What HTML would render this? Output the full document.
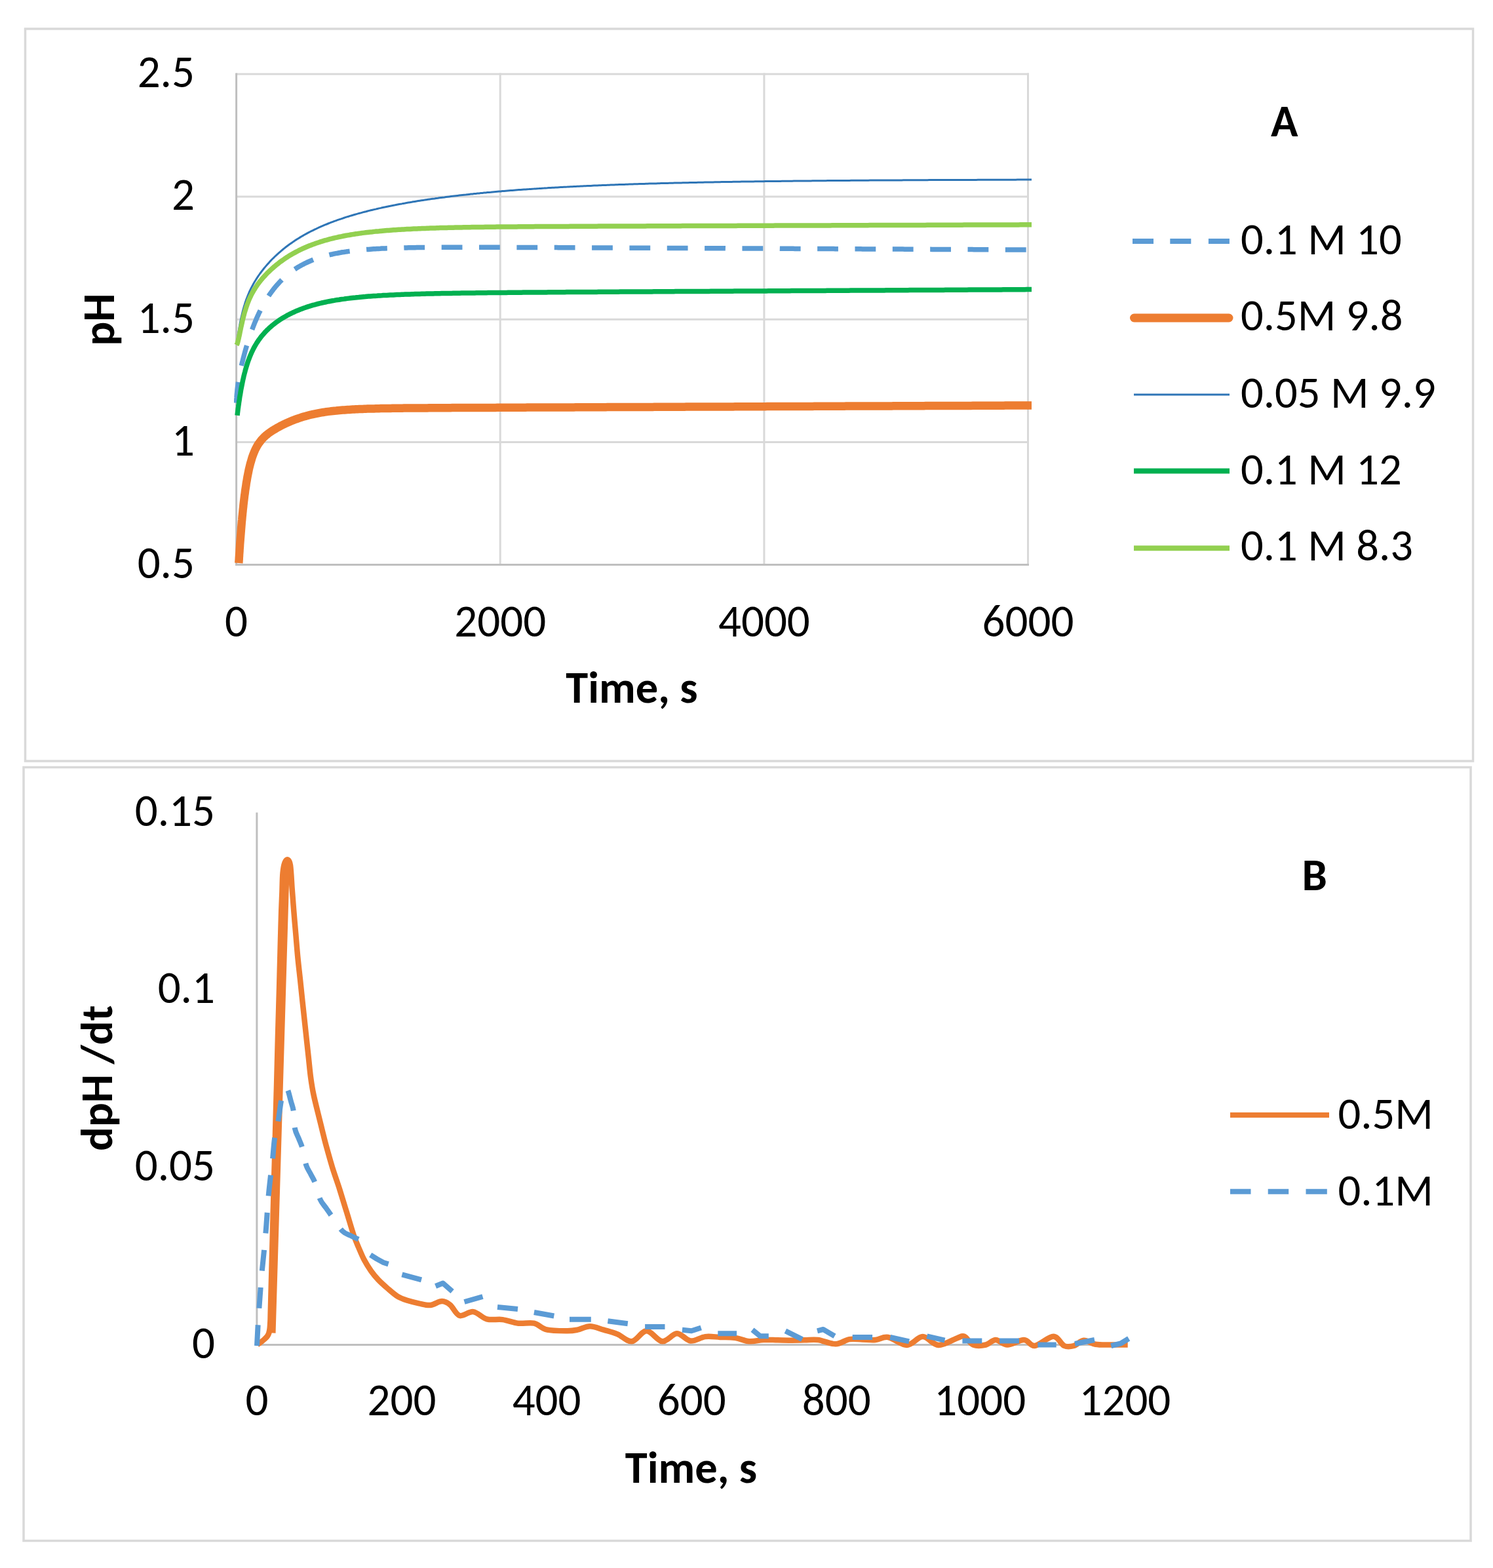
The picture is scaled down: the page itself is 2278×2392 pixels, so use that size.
<!DOCTYPE html>
<html><head><meta charset="utf-8"><title>pH vs time charts</title>
<style>html,body{margin:0;padding:0;background:#fff;}svg{display:block;}text{font-family:Carlito, 'Liberation Sans', sans-serif;fill:#000;}</style></head><body>
<svg width="2278" height="2392" viewBox="0 0 2278 2392">
<rect x="0" y="0" width="2278" height="2392" fill="#fff"/>
<rect x="38.5" y="44" width="2209" height="1117" fill="none" stroke="#D9D9D9" stroke-width="3.5"/>
<rect x="36" y="1170.5" width="2208" height="1180" fill="none" stroke="#D9D9D9" stroke-width="3.5"/>
<g id="chartA">
<line x1="360.6" y1="113.0" x2="1570.0" y2="113.0" stroke="#D9D9D9" stroke-width="3"/>
<line x1="360.6" y1="300.1" x2="1570.0" y2="300.1" stroke="#D9D9D9" stroke-width="3"/>
<line x1="360.6" y1="487.2" x2="1570.0" y2="487.2" stroke="#D9D9D9" stroke-width="3"/>
<line x1="360.6" y1="674.4" x2="1570.0" y2="674.4" stroke="#D9D9D9" stroke-width="3"/>
<line x1="763.2" y1="111.5" x2="763.2" y2="861.5" stroke="#D9D9D9" stroke-width="3"/>
<line x1="1165.9" y1="111.5" x2="1165.9" y2="861.5" stroke="#D9D9D9" stroke-width="3"/>
<line x1="1568.5" y1="111.5" x2="1568.5" y2="861.5" stroke="#D9D9D9" stroke-width="3"/>
<line x1="360.6" y1="111.5" x2="360.6" y2="863.0" stroke="#BFBFBF" stroke-width="3"/>
<line x1="359.1" y1="861.5" x2="1570.0" y2="861.5" stroke="#BFBFBF" stroke-width="3"/>
<path d="M360.7 614.5 L360.8 609.5 L361.0 607.0 L361.1 604.5 L361.3 602.0 L361.6 599.5 L361.8 597.0 L362.0 594.5 L362.3 592.0 L362.6 589.5 L362.9 587.0 L363.2 584.5 L363.6 582.0 L364.0 579.5 L364.4 577.1 L364.9 574.6 L365.3 572.1 L365.8 569.7 L366.3 567.2 L366.9 564.8 L367.4 562.3 L367.9 559.8 L368.5 557.4 L369.1 554.9 L369.7 552.5 L370.3 550.1 L370.9 547.6 L371.5 545.2 L372.2 542.8 L372.8 540.3 L373.5 537.9 L374.1 535.5 L374.8 533.0 L375.5 530.6 L376.2 528.2 L377.0 525.8 L377.7 523.4 L378.4 520.9 L379.2 518.6 L380.0 516.2 L380.8 513.8 L381.6 511.4 L382.4 509.0 L383.2 506.6 L384.1 504.3 L385.0 501.9 L385.9 499.5 L386.8 497.2 L387.7 494.9 L388.6 492.5 L389.6 490.2 L390.6 487.9 L391.6 485.5 L392.6 483.2 L393.7 481.0 L394.7 478.7 L395.8 476.4 L396.9 474.2 L398.0 471.9 L399.2 469.7 L400.4 467.5 L401.6 465.3 L402.8 463.1 L404.1 460.9 L405.4 458.7 L406.7 456.6 L408.0 454.4 L409.4 452.3 L410.8 450.2 L412.2 448.2 L413.7 446.1 L415.1 444.1 L416.7 442.1 L418.2 440.1 L419.8 438.1 L421.4 436.2 L423.1 434.3 L424.8 432.4 L426.5 430.5 L428.2 428.7 L430.0 427.0 L431.7 425.2 L433.6 423.5 L435.4 421.8 L437.3 420.2 L439.2 418.6 L441.2 417.0 L443.2 415.5 L445.2 414.0 L447.2 412.5 L449.3 411.1 L451.4 409.7 L453.5 408.3 L455.7 407.0 L457.9 405.8 L460.1 404.5 L462.3 403.4 L464.5 402.2 L466.8 401.1 L469.1 400.0 L471.4 399.0 L473.7 398.0 L476.0 397.1 L478.4 396.1 L480.7 395.3 L483.1 394.4 L485.5 393.6 L487.9 392.8 L490.3 392.1 L492.8 391.3 L495.2 390.7 L497.6 390.0 L500.1 389.4 L502.5 388.8 L505.0 388.2 L507.5 387.7 L509.9 387.1 L512.4 386.6 L514.9 386.2 L517.4 385.7 L519.8 385.3 L522.3 384.8 L524.8 384.5 L527.3 384.1 L529.8 383.7 L532.3 383.4 L534.8 383.1 L537.3 382.7 L539.8 382.4 L542.3 382.2 L544.9 381.9 L547.4 381.6 L549.9 381.4 L552.4 381.2 L554.9 380.9 L557.5 380.7 L560.0 380.5 L562.5 380.4 L565.0 380.2 L567.5 380.0 L570.1 379.8 L572.6 379.7 L575.1 379.5 L577.6 379.4 L580.2 379.3 L582.7 379.1 L585.2 379.0 L587.8 378.9 L590.3 378.8 L592.8 378.7 L595.4 378.6 L597.9 378.5 L600.4 378.4 L602.9 378.3 L605.5 378.3 L608.0 378.2 L610.5 378.1 L613.1 378.1 L615.6 378.0 L618.1 377.9 L620.6 377.9 L623.2 377.8 L625.7 377.8 L628.3 377.7 L630.8 377.7 L633.3 377.7 L635.9 377.6 L638.4 377.6 L640.9 377.6 L643.5 377.5 L646.0 377.5 L648.5 377.5 L651.1 377.4 L653.6 377.4 L656.1 377.4 L658.7 377.4 L661.2 377.4 L663.7 377.3 L666.3 377.3 L668.8 377.3 L671.4 377.3 L673.9 377.3 L676.4 377.3 L678.9 377.3 L681.4 377.2 L684.0 377.2 L686.6 377.2 L689.1 377.2 L691.6 377.2 L694.1 377.2 L696.7 377.2 L699.2 377.2 L701.8 377.2 L704.3 377.2 L706.8 377.2 L709.4 377.2 L711.9 377.2 L714.4 377.2 L717.0 377.2 L719.6 377.2 L722.1 377.2 L724.6 377.2 L727.2 377.2 L729.7 377.2 L732.3 377.2 L734.8 377.2 L737.4 377.2 L739.9 377.2 L742.4 377.2 L745.0 377.3 L747.5 377.3 L750.1 377.3 L752.6 377.3 L755.2 377.3 L757.7 377.3 L760.2 377.3 L762.7 377.3 L765.3 377.3 L767.8 377.3 L770.4 377.3 L772.9 377.3 L775.5 377.3 L778.1 377.4 L780.6 377.4 L783.1 377.4 L785.6 377.4 L788.2 377.4 L790.7 377.4 L793.3 377.4 L795.8 377.4 L798.4 377.4 L801.0 377.4 L803.5 377.4 L806.0 377.5 L808.5 377.5 L811.1 377.5 L813.6 377.5 L816.2 377.5 L818.7 377.5 L821.3 377.5 L823.9 377.5 L826.5 377.5 L829.0 377.6 L831.5 377.6 L834.0 377.6 L836.5 377.6 L839.1 377.6 L841.6 377.6 L844.2 377.6 L846.8 377.6 L849.3 377.6 L851.9 377.7 L854.5 377.7 L857.0 377.7 L859.5 377.7 L862.0 377.7 L864.6 377.7 L867.1 377.7 L869.7 377.7 L872.2 377.7 L874.8 377.8 L877.3 377.8 L879.9 377.8 L882.5 377.8 L885.1 377.8 L887.6 377.8 L890.1 377.8 L892.6 377.8 L895.2 377.9 L897.7 377.9 L900.2 377.9 L902.8 377.9 L905.3 377.9 L907.9 377.9 L910.5 377.9 L913.0 377.9 L915.6 377.9 L918.2 378.0 L920.8 378.0 L923.3 378.0 L925.9 378.0 L928.4 378.0 L930.9 378.0 L933.4 378.0 L936.0 378.0 L938.5 378.1 L941.1 378.1 L943.6 378.1 L946.2 378.1 L948.8 378.1 L951.4 378.1 L954.0 378.1 L956.6 378.1 L959.2 378.2 L961.7 378.2 L964.2 378.2 L966.7 378.2 L969.2 378.2 L971.8 378.2 L974.3 378.2 L976.8 378.2 L979.4 378.2 L982.0 378.3 L984.5 378.3 L987.1 378.3 L989.7 378.3 L992.3 378.3 L994.9 378.3 L997.5 378.3 L1000.1 378.3 L1002.7 378.4 L1005.2 378.4 L1007.7 378.4 L1010.2 378.4 L1012.7 378.4 L1015.3 378.4 L1017.8 378.4 L1020.3 378.4 L1022.9 378.5 L1025.4 378.5 L1028.0 378.5 L1030.6 378.5 L1033.2 378.5 L1035.7 378.5 L1038.3 378.5 L1040.9 378.5 L1043.5 378.6 L1046.1 378.6 L1048.7 378.6 L1051.4 378.6 L1053.9 378.6 L1056.4 378.6 L1058.9 378.6 L1061.4 378.6 L1063.9 378.6 L1066.5 378.7 L1069.0 378.7 L1071.6 378.7 L1074.1 378.7 L1076.7 378.7 L1079.2 378.7 L1081.8 378.7 L1084.4 378.7 L1087.0 378.8 L1089.5 378.8 L1092.1 378.8 L1094.7 378.8 L1097.3 378.8 L1100.0 378.8 L1102.6 378.8 L1105.2 378.8 L1107.8 378.9 L1110.3 378.9 L1112.8 378.9 L1115.4 378.9 L1117.9 378.9 L1120.4 378.9 L1122.9 378.9 L1125.5 378.9 L1128.0 379.0 L1130.6 379.0 L1133.1 379.0 L1135.7 379.0 L1138.3 379.0 L1140.8 379.0 L1143.4 379.0 L1146.0 379.0 L1148.6 379.1 L1151.2 379.1 L1153.8 379.1 L1156.4 379.1 L1159.0 379.1 L1161.6 379.1 L1164.2 379.1 L1166.9 379.1 L1169.5 379.2 L1172.0 379.2 L1174.5 379.2 L1177.0 379.2 L1179.6 379.2 L1182.1 379.2 L1184.6 379.2 L1187.1 379.2 L1189.7 379.2 L1192.2 379.3 L1194.8 379.3 L1197.3 379.3 L1199.9 379.3 L1202.4 379.3 L1205.0 379.3 L1207.6 379.3 L1210.2 379.3 L1212.8 379.4 L1215.3 379.4 L1217.9 379.4 L1220.5 379.4 L1223.2 379.4 L1225.8 379.4 L1228.4 379.4 L1231.0 379.4 L1233.6 379.5 L1236.3 379.5 L1238.9 379.5 L1241.5 379.5 L1244.0 379.5 L1246.6 379.5 L1249.1 379.5 L1251.6 379.5 L1254.1 379.6 L1256.6 379.6 L1259.2 379.6 L1261.7 379.6 L1264.2 379.6 L1266.8 379.6 L1269.3 379.6 L1271.9 379.6 L1274.4 379.7 L1277.0 379.7 L1279.6 379.7 L1282.1 379.7 L1284.7 379.7 L1287.3 379.7 L1289.9 379.7 L1292.5 379.7 L1295.1 379.8 L1297.7 379.8 L1300.3 379.8 L1302.9 379.8 L1305.5 379.8 L1308.1 379.8 L1310.8 379.8 L1313.4 379.8 L1316.0 379.9 L1318.7 379.9 L1321.3 379.9 L1324.0 379.9 L1326.6 379.9 L1329.1 379.9 L1331.6 379.9 L1334.1 379.9 L1336.6 379.9 L1339.2 380.0 L1341.7 380.0 L1344.2 380.0 L1346.8 380.0 L1349.3 380.0 L1351.8 380.0 L1354.4 380.0 L1356.9 380.0 L1359.5 380.1 L1362.0 380.1 L1364.6 380.1 L1367.2 380.1 L1369.8 380.1 L1372.3 380.1 L1374.9 380.1 L1377.5 380.1 L1380.1 380.2 L1382.7 380.2 L1385.3 380.2 L1387.9 380.2 L1390.5 380.2 L1393.1 380.2 L1395.7 380.2 L1398.3 380.2 L1401.0 380.3 L1403.6 380.3 L1406.2 380.3 L1408.9 380.3 L1411.5 380.3 L1414.2 380.3 L1416.8 380.3 L1419.5 380.3 L1422.1 380.4 L1424.8 380.4 L1427.3 380.4 L1429.8 380.4 L1432.3 380.4 L1434.8 380.4 L1437.4 380.4 L1439.9 380.4 L1442.4 380.5 L1444.9 380.5 L1447.5 380.5 L1450.0 380.5 L1452.5 380.5 L1455.1 380.5 L1457.6 380.5 L1460.2 380.5 L1462.8 380.6 L1465.3 380.6 L1467.9 380.6 L1470.5 380.6 L1473.0 380.6 L1475.6 380.6 L1478.2 380.6 L1480.8 380.6 L1483.4 380.6 L1486.0 380.7 L1488.6 380.7 L1491.2 380.7 L1493.8 380.7 L1496.4 380.7 L1499.0 380.7 L1501.6 380.7 L1504.2 380.7 L1506.9 380.8 L1509.5 380.8 L1512.1 380.8 L1514.8 380.8 L1517.4 380.8 L1520.0 380.8 L1522.7 380.8 L1525.3 380.8 L1528.0 380.9 L1530.7 380.9 L1533.3 380.9 L1536.0 380.9 L1538.7 380.9 L1541.4 380.9 L1543.9 380.9 L1546.4 381.0 L1548.9 381.0 L1551.4 381.0 L1553.9 381.0 L1556.4 381.0 L1559.0 381.0 L1561.5 381.0 L1564.0 381.0 L1566.6 381.0 L1569.1 381.1 L1571.6 381.1 L1574.0 381.1" fill="none" stroke="#5B9BD5" stroke-width="7.5" stroke-dasharray="31.8 25.55" stroke-linejoin="round"/>
<path d="M364.3 859.0 L364.5 855.8 L364.7 853.3 L364.8 850.8 L365.0 848.3 L365.1 845.8 L365.3 843.3 L365.5 840.8 L365.6 838.3 L365.8 835.8 L366.0 833.3 L366.1 830.8 L366.3 828.3 L366.5 825.8 L366.7 823.3 L366.9 820.7 L367.1 818.2 L367.3 815.7 L367.5 813.2 L367.7 810.7 L367.9 808.2 L368.1 805.7 L368.3 803.2 L368.5 800.7 L368.7 798.2 L368.9 795.7 L369.2 793.1 L369.4 790.6 L369.6 788.1 L369.9 785.6 L370.1 783.1 L370.4 780.6 L370.6 778.1 L370.9 775.6 L371.2 773.1 L371.4 770.6 L371.7 768.0 L372.0 765.5 L372.3 763.0 L372.6 760.5 L372.9 758.0 L373.2 755.4 L373.6 752.9 L373.9 750.4 L374.2 747.9 L374.6 745.4 L375.0 742.9 L375.4 740.4 L375.7 737.9 L376.1 735.4 L376.6 732.9 L377.0 730.4 L377.4 727.9 L377.9 725.4 L378.4 723.0 L378.9 720.5 L379.4 718.0 L379.9 715.6 L380.5 713.1 L381.1 710.7 L381.7 708.2 L382.4 705.8 L383.1 703.4 L383.8 701.0 L384.5 698.6 L385.3 696.2 L386.2 693.8 L387.1 691.5 L388.0 689.2 L389.0 686.9 L390.1 684.6 L391.3 682.3 L392.5 680.2 L393.8 678.0 L395.2 675.9 L396.7 673.9 L398.2 671.9 L399.9 670.0 L401.6 668.2 L403.4 666.4 L405.2 664.7 L407.2 663.1 L409.1 661.5 L411.2 660.0 L413.2 658.6 L415.3 657.2 L417.5 655.9 L419.6 654.6 L421.8 653.3 L424.0 652.1 L426.2 650.8 L428.4 649.7 L430.7 648.5 L432.9 647.4 L435.2 646.3 L437.5 645.3 L439.8 644.3 L442.1 643.3 L444.4 642.3 L446.7 641.3 L449.1 640.4 L451.4 639.5 L453.8 638.7 L456.2 637.9 L458.6 637.1 L461.0 636.3 L463.4 635.6 L465.8 634.9 L468.2 634.2 L470.6 633.6 L473.1 632.9 L475.5 632.4 L478.0 631.8 L480.4 631.3 L482.9 630.8 L485.4 630.3 L487.9 629.8 L490.4 629.4 L492.9 629.0 L495.4 628.6 L497.8 628.2 L500.4 627.9 L502.9 627.6 L505.4 627.3 L507.9 627.0 L510.4 626.7 L512.9 626.5 L515.4 626.2 L517.9 626.0 L520.5 625.8 L523.0 625.6 L525.5 625.4 L528.0 625.2 L530.5 625.0 L533.0 624.9 L535.5 624.7 L538.0 624.6 L540.5 624.5 L543.0 624.3 L545.6 624.2 L548.1 624.1 L550.6 624.0 L553.2 623.9 L555.7 623.8 L558.2 623.7 L560.7 623.6 L563.3 623.6 L565.8 623.5 L568.3 623.4 L570.8 623.4 L573.3 623.3 L575.9 623.2 L578.4 623.2 L580.9 623.1 L583.5 623.1 L586.0 623.0 L588.5 623.0 L591.0 623.0 L593.5 622.9 L596.1 622.9 L598.6 622.8 L601.2 622.8 L603.7 622.8 L606.2 622.7 L608.8 622.7 L611.3 622.7 L613.8 622.7 L616.3 622.6 L618.9 622.6 L621.4 622.6 L623.9 622.6 L626.5 622.5 L629.0 622.5 L631.5 622.5 L634.1 622.5 L636.6 622.5 L639.2 622.4 L641.7 622.4 L644.2 622.4 L646.7 622.4 L649.3 622.4 L651.9 622.4 L654.4 622.3 L656.9 622.3 L659.4 622.3 L662.0 622.3 L664.6 622.3 L667.1 622.3 L669.6 622.3 L672.1 622.2 L674.7 622.2 L677.3 622.2 L679.8 622.2 L682.3 622.2 L684.8 622.2 L687.4 622.2 L690.0 622.1 L692.5 622.1 L695.0 622.1 L697.5 622.1 L700.0 622.1 L702.6 622.1 L705.2 622.1 L707.7 622.1 L710.2 622.1 L712.7 622.0 L715.2 622.0 L717.8 622.0 L720.3 622.0 L722.9 622.0 L725.4 622.0 L727.9 622.0 L730.5 622.0 L733.0 621.9 L735.6 621.9 L738.1 621.9 L740.7 621.9 L743.2 621.9 L745.7 621.9 L748.3 621.9 L750.8 621.9 L753.3 621.9 L755.9 621.9 L758.5 621.8 L761.1 621.8 L763.6 621.8 L766.1 621.8 L768.6 621.8 L771.1 621.8 L773.7 621.8 L776.3 621.8 L778.8 621.8 L781.4 621.7 L783.9 621.7 L786.4 621.7 L788.9 621.7 L791.5 621.7 L794.0 621.7 L796.6 621.7 L799.1 621.7 L801.7 621.7 L804.3 621.6 L806.8 621.6 L809.3 621.6 L811.8 621.6 L814.3 621.6 L816.9 621.6 L819.4 621.6 L822.0 621.6 L824.6 621.6 L827.1 621.6 L829.7 621.5 L832.3 621.5 L834.8 621.5 L837.3 621.5 L839.9 621.5 L842.4 621.5 L844.9 621.5 L847.5 621.5 L850.1 621.5 L852.6 621.4 L855.2 621.4 L857.8 621.4 L860.4 621.4 L862.9 621.4 L865.4 621.4 L868.0 621.4 L870.5 621.4 L873.0 621.4 L875.6 621.4 L878.1 621.3 L880.7 621.3 L883.3 621.3 L885.9 621.3 L888.5 621.3 L891.1 621.3 L893.6 621.3 L896.1 621.3 L898.6 621.3 L901.1 621.2 L903.7 621.2 L906.2 621.2 L908.8 621.2 L911.3 621.2 L913.9 621.2 L916.5 621.2 L919.0 621.2 L921.6 621.2 L924.2 621.2 L926.7 621.1 L929.2 621.1 L931.8 621.1 L934.3 621.1 L936.8 621.1 L939.4 621.1 L941.9 621.1 L944.5 621.1 L947.0 621.1 L949.6 621.0 L952.2 621.0 L954.7 621.0 L957.3 621.0 L959.9 621.0 L962.5 621.0 L965.1 621.0 L967.7 621.0 L970.2 621.0 L972.7 621.0 L975.2 620.9 L977.7 620.9 L980.3 620.9 L982.8 620.9 L985.4 620.9 L988.0 620.9 L990.5 620.9 L993.1 620.9 L995.7 620.9 L998.3 620.8 L1000.9 620.8 L1003.5 620.8 L1006.1 620.8 L1008.7 620.8 L1011.2 620.8 L1013.7 620.8 L1016.2 620.8 L1018.8 620.8 L1021.3 620.8 L1023.8 620.7 L1026.4 620.7 L1028.9 620.7 L1031.5 620.7 L1034.1 620.7 L1036.6 620.7 L1039.2 620.7 L1041.8 620.7 L1044.4 620.7 L1047.0 620.6 L1049.6 620.6 L1052.2 620.6 L1054.8 620.6 L1057.5 620.6 L1060.0 620.6 L1062.5 620.6 L1065.0 620.6 L1067.5 620.6 L1070.0 620.6 L1072.6 620.5 L1075.1 620.5 L1077.7 620.5 L1080.2 620.5 L1082.8 620.5 L1085.4 620.5 L1087.9 620.5 L1090.5 620.5 L1093.1 620.5 L1095.7 620.4 L1098.3 620.4 L1100.9 620.4 L1103.5 620.4 L1106.1 620.4 L1108.7 620.4 L1111.4 620.4 L1113.9 620.4 L1116.4 620.4 L1118.9 620.4 L1121.4 620.3 L1123.9 620.3 L1126.5 620.3 L1129.0 620.3 L1131.5 620.3 L1134.1 620.3 L1136.6 620.3 L1139.2 620.3 L1141.8 620.3 L1144.3 620.2 L1146.9 620.2 L1149.5 620.2 L1152.1 620.2 L1154.7 620.2 L1157.3 620.2 L1159.9 620.2 L1162.5 620.2 L1165.1 620.2 L1167.7 620.2 L1170.3 620.1 L1173.0 620.1 L1175.6 620.1 L1178.1 620.1 L1180.6 620.1 L1183.1 620.1 L1185.7 620.1 L1188.2 620.1 L1190.7 620.1 L1193.2 620.0 L1195.8 620.0 L1198.3 620.0 L1200.9 620.0 L1203.4 620.0 L1206.0 620.0 L1208.6 620.0 L1211.1 620.0 L1213.7 620.0 L1216.3 620.0 L1218.9 619.9 L1221.5 619.9 L1224.1 619.9 L1226.7 619.9 L1229.3 619.9 L1231.9 619.9 L1234.5 619.9 L1237.1 619.9 L1239.8 619.9 L1242.4 619.8 L1245.1 619.8 L1247.7 619.8 L1250.2 619.8 L1252.7 619.8 L1255.2 619.8 L1257.7 619.8 L1260.3 619.8 L1262.8 619.8 L1265.3 619.7 L1267.9 619.7 L1270.4 619.7 L1272.9 619.7 L1275.5 619.7 L1278.0 619.7 L1280.6 619.7 L1283.2 619.7 L1285.7 619.7 L1288.3 619.7 L1290.9 619.6 L1293.5 619.6 L1296.1 619.6 L1298.7 619.6 L1301.3 619.6 L1303.9 619.6 L1306.5 619.6 L1309.1 619.6 L1311.7 619.6 L1314.3 619.5 L1317.0 619.5 L1319.6 619.5 L1322.2 619.5 L1324.9 619.5 L1327.5 619.5 L1330.2 619.5 L1332.7 619.5 L1335.2 619.5 L1337.7 619.5 L1340.2 619.4 L1342.7 619.4 L1345.2 619.4 L1347.8 619.4 L1350.3 619.4 L1352.8 619.4 L1355.4 619.4 L1357.9 619.4 L1360.5 619.4 L1363.0 619.3 L1365.6 619.3 L1368.1 619.3 L1370.7 619.3 L1373.3 619.3 L1375.8 619.3 L1378.4 619.3 L1381.0 619.3 L1383.6 619.3 L1386.2 619.3 L1388.8 619.2 L1391.4 619.2 L1394.0 619.2 L1396.6 619.2 L1399.2 619.2 L1401.8 619.2 L1404.4 619.2 L1407.1 619.2 L1409.7 619.2 L1412.3 619.1 L1415.0 619.1 L1417.6 619.1 L1420.3 619.1 L1422.9 619.1 L1425.6 619.1 L1428.2 619.1 L1430.7 619.1 L1433.3 619.1 L1435.8 619.0 L1438.3 619.0 L1440.8 619.0 L1443.3 619.0 L1445.8 619.0 L1448.4 619.0 L1450.9 619.0 L1453.4 619.0 L1456.0 619.0 L1458.5 619.0 L1461.1 618.9 L1463.6 618.9 L1466.2 618.9 L1468.7 618.9 L1471.3 618.9 L1473.8 618.9 L1476.4 618.9 L1479.0 618.9 L1481.6 618.9 L1484.2 618.8 L1486.7 618.8 L1489.3 618.8 L1491.9 618.8 L1494.5 618.8 L1497.1 618.8 L1499.7 618.8 L1502.3 618.8 L1505.0 618.8 L1507.6 618.8 L1510.2 618.7 L1512.8 618.7 L1515.5 618.7 L1518.1 618.7 L1520.7 618.7 L1523.4 618.7 L1526.0 618.7 L1528.7 618.7 L1531.3 618.7 L1534.0 618.6 L1536.7 618.6 L1539.3 618.6 L1542.0 618.6 L1544.7 618.6 L1547.2 618.6 L1549.7 618.6 L1552.2 618.6 L1554.7 618.6 L1557.2 618.5 L1559.7 618.5 L1562.2 618.5 L1564.8 618.5 L1567.3 618.5 L1569.8 618.5 L1572.4 618.5 L1574.0 618.5" fill="none" stroke="#ED7D31" stroke-width="12.5" stroke-linejoin="round"/>
<path d="M361.5 523.5 L361.8 521.0 L362.2 518.6 L362.5 516.1 L362.9 513.6 L363.2 511.1 L363.6 508.6 L364.0 506.2 L364.4 503.7 L364.8 501.2 L365.2 498.7 L365.7 496.3 L366.1 493.8 L366.6 491.3 L367.1 488.9 L367.6 486.4 L368.1 484.0 L368.7 481.5 L369.3 479.1 L369.9 476.6 L370.5 474.2 L371.1 471.8 L371.8 469.4 L372.5 466.9 L373.3 464.5 L374.0 462.1 L374.8 459.8 L375.6 457.4 L376.5 455.0 L377.4 452.7 L378.3 450.4 L379.3 448.1 L380.3 445.7 L381.3 443.4 L382.4 441.2 L383.5 438.9 L384.7 436.7 L385.9 434.5 L387.1 432.3 L388.4 430.1 L389.7 428.0 L391.0 425.8 L392.4 423.7 L393.7 421.6 L395.2 419.5 L396.6 417.5 L398.1 415.5 L399.6 413.5 L401.2 411.5 L402.7 409.5 L404.3 407.6 L406.0 405.6 L407.6 403.7 L409.3 401.9 L411.0 400.0 L412.7 398.1 L414.4 396.3 L416.2 394.5 L418.0 392.8 L419.8 391.0 L421.6 389.3 L423.5 387.6 L425.4 385.9 L427.2 384.3 L429.2 382.6 L431.1 381.0 L433.0 379.4 L435.0 377.8 L437.0 376.3 L439.0 374.8 L441.0 373.3 L443.1 371.8 L445.1 370.4 L447.2 368.9 L449.3 367.5 L451.4 366.1 L453.5 364.8 L455.7 363.4 L457.8 362.1 L460.0 360.8 L462.1 359.6 L464.3 358.3 L466.5 357.1 L468.7 355.9 L471.0 354.7 L473.2 353.5 L475.4 352.4 L477.7 351.3 L480.0 350.1 L482.3 349.1 L484.6 348.0 L486.9 346.9 L489.2 345.9 L491.5 344.9 L493.8 343.9 L496.1 342.9 L498.5 342.0 L500.8 341.0 L503.1 340.1 L505.5 339.2 L507.8 338.3 L510.2 337.4 L512.6 336.6 L515.0 335.7 L517.4 334.9 L519.8 334.1 L522.2 333.3 L524.5 332.5 L526.9 331.7 L529.3 330.9 L531.7 330.2 L534.2 329.4 L536.6 328.7 L539.0 328.0 L541.5 327.3 L543.9 326.6 L546.3 325.9 L548.7 325.2 L551.2 324.6 L553.6 323.9 L556.1 323.3 L558.5 322.7 L560.9 322.0 L563.4 321.4 L565.8 320.8 L568.3 320.2 L570.7 319.6 L573.2 319.1 L575.7 318.5 L578.2 317.9 L580.7 317.4 L583.1 316.8 L585.6 316.3 L588.1 315.8 L590.6 315.2 L593.0 314.7 L595.5 314.2 L598.0 313.7 L600.5 313.2 L602.9 312.8 L605.4 312.3 L607.9 311.8 L610.4 311.3 L612.9 310.9 L615.4 310.4 L617.9 310.0 L620.4 309.5 L622.9 309.1 L625.4 308.7 L627.9 308.3 L630.4 307.8 L632.9 307.4 L635.4 307.0 L637.9 306.6 L640.4 306.2 L642.9 305.8 L645.4 305.4 L647.9 305.1 L650.4 304.7 L652.9 304.3 L655.5 303.9 L657.9 303.6 L660.4 303.2 L663.0 302.9 L665.5 302.5 L668.0 302.2 L670.5 301.8 L673.0 301.5 L675.5 301.2 L678.0 300.9 L680.5 300.5 L683.1 300.2 L685.6 299.9 L688.1 299.6 L690.6 299.3 L693.1 299.0 L695.6 298.7 L698.2 298.4 L700.7 298.1 L703.2 297.8 L705.7 297.5 L708.3 297.2 L710.8 297.0 L713.3 296.7 L715.9 296.4 L718.4 296.1 L720.9 295.9 L723.4 295.6 L725.9 295.4 L728.5 295.1 L731.0 294.9 L733.6 294.6 L736.1 294.4 L738.6 294.1 L741.2 293.9 L743.7 293.6 L746.2 293.4 L748.8 293.2 L751.3 292.9 L753.9 292.7 L756.4 292.5 L758.9 292.3 L761.4 292.1 L763.9 291.9 L766.4 291.6 L769.0 291.4 L771.5 291.2 L774.1 291.0 L776.7 290.8 L779.2 290.6 L781.7 290.4 L784.2 290.2 L786.7 290.0 L789.3 289.8 L791.8 289.6 L794.4 289.5 L796.9 289.3 L799.5 289.1 L802.0 288.9 L804.5 288.7 L807.0 288.6 L809.6 288.4 L812.1 288.2 L814.6 288.1 L817.2 287.9 L819.7 287.7 L822.3 287.6 L824.9 287.4 L827.5 287.2 L830.0 287.1 L832.5 286.9 L835.0 286.8 L837.6 286.6 L840.1 286.5 L842.6 286.3 L845.2 286.2 L847.8 286.0 L850.3 285.9 L852.9 285.7 L855.5 285.6 L858.0 285.5 L860.5 285.3 L863.1 285.2 L865.6 285.1 L868.1 284.9 L870.7 284.8 L873.2 284.7 L875.8 284.5 L878.4 284.4 L880.9 284.3 L883.5 284.2 L886.1 284.0 L888.6 283.9 L891.1 283.8 L893.7 283.7 L896.2 283.6 L898.7 283.5 L901.3 283.4 L903.8 283.2 L906.4 283.1 L908.9 283.0 L911.5 282.9 L914.1 282.8 L916.7 282.7 L919.3 282.6 L921.9 282.5 L924.4 282.4 L926.9 282.3 L929.4 282.2 L931.9 282.1 L934.5 282.0 L937.0 281.9 L939.6 281.8 L942.1 281.7 L944.7 281.6 L947.2 281.5 L949.8 281.5 L952.4 281.4 L955.0 281.3 L957.6 281.2 L960.2 281.1 L962.7 281.0 L965.2 280.9 L967.7 280.8 L970.3 280.8 L972.8 280.7 L975.3 280.6 L977.9 280.5 L980.4 280.5 L983.0 280.4 L985.6 280.3 L988.1 280.2 L990.7 280.1 L993.3 280.1 L995.9 280.0 L998.5 279.9 L1001.1 279.9 L1003.7 279.8 L1006.2 279.7 L1008.7 279.6 L1011.3 279.6 L1013.8 279.5 L1016.3 279.5 L1018.8 279.4 L1021.4 279.3 L1023.9 279.3 L1026.5 279.2 L1029.1 279.1 L1031.6 279.1 L1034.2 279.0 L1036.8 278.9 L1039.4 278.9 L1042.0 278.8 L1044.6 278.8 L1047.2 278.7 L1049.8 278.7 L1052.4 278.6 L1054.9 278.5 L1057.4 278.5 L1059.9 278.4 L1062.5 278.4 L1065.0 278.3 L1067.5 278.3 L1070.1 278.2 L1072.6 278.2 L1075.2 278.1 L1077.7 278.1 L1080.3 278.0 L1082.9 278.0 L1085.4 277.9 L1088.0 277.9 L1090.6 277.8 L1093.2 277.8 L1095.8 277.7 L1098.4 277.7 L1101.0 277.6 L1103.6 277.6 L1106.3 277.6 L1108.8 277.5 L1111.3 277.5 L1113.8 277.4 L1116.3 277.4 L1118.8 277.3 L1121.3 277.3 L1123.9 277.3 L1126.4 277.2 L1129.0 277.2 L1131.5 277.1 L1134.1 277.1 L1136.6 277.1 L1139.2 277.0 L1141.8 277.0 L1144.3 277.0 L1146.9 276.9 L1149.5 276.9 L1152.1 276.8 L1154.7 276.8 L1157.3 276.8 L1159.9 276.7 L1162.6 276.7 L1165.2 276.7 L1167.8 276.6 L1170.4 276.6 L1172.9 276.6 L1175.5 276.5 L1178.0 276.5 L1180.5 276.5 L1183.0 276.4 L1185.5 276.4 L1188.1 276.4 L1190.6 276.4 L1193.1 276.3 L1195.7 276.3 L1198.3 276.3 L1200.8 276.2 L1203.4 276.2 L1205.9 276.2 L1208.5 276.2 L1211.1 276.1 L1213.7 276.1 L1216.3 276.1 L1218.9 276.0 L1221.5 276.0 L1224.1 276.0 L1226.7 276.0 L1229.3 275.9 L1231.9 275.9 L1234.6 275.9 L1237.2 275.9 L1239.8 275.8 L1242.5 275.8 L1245.0 275.8 L1247.5 275.8 L1250.0 275.7 L1252.5 275.7 L1255.0 275.7 L1257.5 275.7 L1260.1 275.7 L1262.6 275.6 L1265.2 275.6 L1267.7 275.6 L1270.2 275.6 L1272.8 275.5 L1275.4 275.5 L1277.9 275.5 L1280.5 275.5 L1283.1 275.5 L1285.6 275.4 L1288.2 275.4 L1290.8 275.4 L1293.4 275.4 L1296.0 275.4 L1298.6 275.3 L1301.2 275.3 L1303.8 275.3 L1306.4 275.3 L1309.0 275.3 L1311.7 275.2 L1314.3 275.2 L1316.9 275.2 L1319.6 275.2 L1322.2 275.2 L1324.9 275.2 L1327.5 275.1 L1330.0 275.1 L1332.5 275.1 L1335.1 275.1 L1337.6 275.1 L1340.1 275.1 L1342.6 275.0 L1345.1 275.0 L1347.7 275.0 L1350.2 275.0 L1352.8 275.0 L1355.3 275.0 L1357.9 275.0 L1360.4 274.9 L1363.0 274.9 L1365.5 274.9 L1368.1 274.9 L1370.7 274.9 L1373.3 274.9 L1375.8 274.9 L1378.4 274.8 L1381.0 274.8 L1383.6 274.8 L1386.2 274.8 L1388.8 274.8 L1391.4 274.8 L1394.0 274.8 L1396.6 274.7 L1399.3 274.7 L1401.9 274.7 L1404.5 274.7 L1407.2 274.7 L1409.8 274.7 L1412.4 274.7 L1415.1 274.7 L1417.7 274.6 L1420.4 274.6 L1423.1 274.6 L1425.7 274.6 L1428.2 274.6 L1430.7 274.6 L1433.2 274.6 L1435.8 274.6 L1438.3 274.6 L1440.8 274.5 L1443.3 274.5 L1445.8 274.5 L1448.4 274.5 L1450.9 274.5 L1453.5 274.5 L1456.0 274.5 L1458.6 274.5 L1461.1 274.5 L1463.7 274.4 L1466.2 274.4 L1468.8 274.4 L1471.4 274.4 L1473.9 274.4 L1476.5 274.4 L1479.1 274.4 L1481.7 274.4 L1484.3 274.4 L1486.9 274.4 L1489.5 274.4 L1492.1 274.3 L1494.7 274.3 L1497.3 274.3 L1499.9 274.3 L1502.5 274.3 L1505.1 274.3 L1507.8 274.3 L1510.4 274.3 L1513.0 274.3 L1515.7 274.3 L1518.3 274.3 L1521.0 274.2 L1523.6 274.2 L1526.3 274.2 L1528.9 274.2 L1531.6 274.2 L1534.2 274.2 L1536.9 274.2 L1539.6 274.2 L1542.3 274.2 L1544.8 274.2 L1547.3 274.2 L1549.8 274.2 L1552.3 274.1 L1554.8 274.1 L1557.3 274.1 L1559.9 274.1 L1562.4 274.1 L1564.9 274.1 L1567.5 274.1 L1570.0 274.1 L1572.5 274.1 L1574.0 274.1" fill="none" stroke="#2E75B6" stroke-width="3" stroke-linejoin="round"/>
<path d="M362.0 633.7 L362.3 631.2 L362.6 628.7 L362.9 626.2 L363.2 623.7 L363.6 621.3 L363.9 618.8 L364.3 616.3 L364.6 613.8 L365.0 611.3 L365.4 608.8 L365.7 606.4 L366.1 603.9 L366.6 601.4 L367.0 598.9 L367.4 596.4 L367.8 594.0 L368.3 591.5 L368.8 589.0 L369.3 586.5 L369.8 584.1 L370.3 581.6 L370.8 579.1 L371.4 576.7 L371.9 574.2 L372.5 571.8 L373.1 569.4 L373.8 566.9 L374.4 564.5 L375.1 562.1 L375.8 559.7 L376.6 557.3 L377.3 554.9 L378.1 552.5 L378.9 550.1 L379.8 547.8 L380.7 545.4 L381.6 543.1 L382.6 540.7 L383.6 538.4 L384.7 536.1 L385.8 533.9 L386.9 531.6 L388.1 529.4 L389.3 527.2 L390.6 525.1 L391.9 522.9 L393.3 520.8 L394.7 518.7 L396.2 516.7 L397.7 514.7 L399.3 512.7 L400.9 510.8 L402.6 508.9 L404.2 507.0 L406.0 505.2 L407.7 503.4 L409.6 501.7 L411.4 499.9 L413.3 498.3 L415.2 496.6 L417.1 495.1 L419.1 493.5 L421.1 492.0 L423.2 490.5 L425.2 489.1 L427.3 487.7 L429.4 486.3 L431.6 485.0 L433.7 483.7 L435.9 482.5 L438.1 481.2 L440.3 480.1 L442.6 478.9 L444.8 477.8 L447.1 476.7 L449.4 475.7 L451.7 474.6 L454.0 473.7 L456.4 472.7 L458.7 471.8 L461.0 470.9 L463.4 470.0 L465.8 469.2 L468.2 468.4 L470.6 467.6 L473.0 466.9 L475.4 466.1 L477.8 465.4 L480.2 464.8 L482.7 464.1 L485.1 463.5 L487.6 462.9 L490.0 462.3 L492.5 461.8 L494.9 461.2 L497.4 460.7 L499.8 460.2 L502.3 459.7 L504.8 459.2 L507.3 458.8 L509.8 458.4 L512.2 457.9 L514.7 457.5 L517.2 457.2 L519.7 456.8 L522.2 456.4 L524.7 456.1 L527.2 455.7 L529.7 455.4 L532.2 455.1 L534.7 454.8 L537.2 454.5 L539.7 454.2 L542.2 454.0 L544.7 453.7 L547.3 453.5 L549.8 453.2 L552.3 453.0 L554.8 452.8 L557.3 452.6 L559.9 452.3 L562.4 452.1 L564.9 452.0 L567.4 451.8 L569.9 451.6 L572.5 451.4 L575.0 451.3 L577.5 451.1 L580.0 450.9 L582.5 450.8 L585.0 450.6 L587.6 450.5 L590.1 450.4 L592.6 450.2 L595.1 450.1 L597.7 450.0 L600.2 449.9 L602.7 449.7 L605.3 449.6 L607.8 449.5 L610.3 449.4 L612.8 449.3 L615.4 449.2 L617.9 449.1 L620.4 449.0 L622.9 449.0 L625.5 448.9 L628.0 448.8 L630.5 448.7 L633.1 448.6 L635.6 448.6 L638.1 448.5 L640.6 448.4 L643.2 448.3 L645.7 448.3 L648.3 448.2 L650.8 448.1 L653.3 448.1 L655.8 448.0 L658.4 448.0 L661.0 447.9 L663.5 447.8 L666.0 447.8 L668.5 447.7 L671.1 447.7 L673.7 447.6 L676.2 447.6 L678.7 447.5 L681.2 447.5 L683.8 447.5 L686.3 447.4 L688.9 447.4 L691.4 447.3 L693.9 447.3 L696.5 447.2 L699.0 447.2 L701.6 447.2 L704.1 447.1 L706.7 447.1 L709.2 447.1 L711.7 447.0 L714.3 447.0 L716.8 447.0 L719.4 446.9 L721.9 446.9 L724.4 446.9 L726.9 446.8 L729.5 446.8 L732.0 446.8 L734.6 446.7 L737.2 446.7 L739.7 446.7 L742.2 446.7 L744.7 446.6 L747.2 446.6 L749.8 446.6 L752.3 446.5 L754.9 446.5 L757.5 446.5 L760.0 446.5 L762.5 446.4 L765.0 446.4 L767.6 446.4 L770.1 446.4 L772.7 446.4 L775.2 446.3 L777.8 446.3 L780.4 446.3 L782.9 446.3 L785.4 446.2 L788.0 446.2 L790.5 446.2 L793.0 446.2 L795.6 446.2 L798.2 446.1 L800.8 446.1 L803.3 446.1 L805.9 446.1 L808.4 446.1 L810.9 446.0 L813.4 446.0 L816.0 446.0 L818.5 446.0 L821.1 446.0 L823.7 445.9 L826.3 445.9 L828.9 445.9 L831.4 445.9 L833.9 445.9 L836.4 445.8 L838.9 445.8 L841.5 445.8 L844.0 445.8 L846.6 445.8 L849.2 445.8 L851.7 445.7 L854.3 445.7 L856.9 445.7 L859.4 445.7 L861.9 445.7 L864.5 445.6 L867.0 445.6 L869.5 445.6 L872.1 445.6 L874.6 445.6 L877.2 445.6 L879.8 445.5 L882.4 445.5 L885.0 445.5 L887.6 445.5 L890.1 445.5 L892.6 445.5 L895.1 445.5 L897.6 445.4 L900.2 445.4 L902.7 445.4 L905.2 445.4 L907.8 445.4 L910.4 445.4 L913.0 445.3 L915.5 445.3 L918.1 445.3 L920.7 445.3 L923.3 445.3 L925.8 445.3 L928.4 445.2 L930.9 445.2 L933.4 445.2 L935.9 445.2 L938.5 445.2 L941.0 445.2 L943.6 445.2 L946.2 445.1 L948.7 445.1 L951.3 445.1 L953.9 445.1 L956.5 445.1 L959.1 445.1 L961.7 445.0 L964.2 445.0 L966.7 445.0 L969.3 445.0 L971.8 445.0 L974.3 445.0 L976.9 445.0 L979.4 444.9 L982.0 444.9 L984.5 444.9 L987.1 444.9 L989.7 444.9 L992.3 444.9 L994.8 444.9 L997.4 444.8 L1000.0 444.8 L1002.7 444.8 L1005.3 444.8 L1007.8 444.8 L1010.3 444.8 L1012.8 444.7 L1015.3 444.7 L1017.9 444.7 L1020.4 444.7 L1023.0 444.7 L1025.5 444.7 L1028.1 444.7 L1030.6 444.6 L1033.2 444.6 L1035.8 444.6 L1038.4 444.6 L1040.9 444.6 L1043.5 444.6 L1046.2 444.6 L1048.8 444.5 L1051.4 444.5 L1054.0 444.5 L1056.5 444.5 L1059.0 444.5 L1061.5 444.5 L1064.1 444.5 L1066.6 444.4 L1069.1 444.4 L1071.7 444.4 L1074.2 444.4 L1076.8 444.4 L1079.3 444.4 L1081.9 444.4 L1084.5 444.3 L1087.0 444.3 L1089.6 444.3 L1092.2 444.3 L1094.8 444.3 L1097.4 444.3 L1100.0 444.3 L1102.6 444.2 L1105.3 444.2 L1107.9 444.2 L1110.4 444.2 L1112.9 444.2 L1115.4 444.2 L1117.9 444.2 L1120.5 444.1 L1123.0 444.1 L1125.5 444.1 L1128.1 444.1 L1130.6 444.1 L1133.2 444.1 L1135.7 444.1 L1138.3 444.0 L1140.9 444.0 L1143.4 444.0 L1146.0 444.0 L1148.6 444.0 L1151.2 444.0 L1153.8 443.9 L1156.4 443.9 L1159.0 443.9 L1161.6 443.9 L1164.2 443.9 L1166.9 443.9 L1169.5 443.9 L1172.1 443.8 L1174.6 443.8 L1177.2 443.8 L1179.7 443.8 L1182.2 443.8 L1184.7 443.8 L1187.2 443.8 L1189.8 443.7 L1192.3 443.7 L1194.9 443.7 L1197.4 443.7 L1200.0 443.7 L1202.5 443.7 L1205.1 443.7 L1207.7 443.6 L1210.2 443.6 L1212.8 443.6 L1215.4 443.6 L1218.0 443.6 L1220.6 443.6 L1223.2 443.6 L1225.8 443.5 L1228.4 443.5 L1231.0 443.5 L1233.7 443.5 L1236.3 443.5 L1238.9 443.5 L1241.6 443.5 L1244.2 443.4 L1246.7 443.4 L1249.2 443.4 L1251.7 443.4 L1254.3 443.4 L1256.8 443.4 L1259.3 443.4 L1261.8 443.3 L1264.4 443.3 L1266.9 443.3 L1269.5 443.3 L1272.0 443.3 L1274.6 443.3 L1277.1 443.3 L1279.7 443.2 L1282.3 443.2 L1284.8 443.2 L1287.4 443.2 L1290.0 443.2 L1292.6 443.2 L1295.2 443.2 L1297.8 443.1 L1300.4 443.1 L1303.0 443.1 L1305.6 443.1 L1308.2 443.1 L1310.9 443.1 L1313.5 443.1 L1316.1 443.0 L1318.8 443.0 L1321.4 443.0 L1324.0 443.0 L1326.7 443.0 L1329.2 443.0 L1331.7 443.0 L1334.2 442.9 L1336.7 442.9 L1339.2 442.9 L1341.8 442.9 L1344.3 442.9 L1346.8 442.9 L1349.4 442.9 L1351.9 442.8 L1354.4 442.8 L1357.0 442.8 L1359.5 442.8 L1362.1 442.8 L1364.7 442.8 L1367.2 442.8 L1369.8 442.7 L1372.4 442.7 L1374.9 442.7 L1377.5 442.7 L1380.1 442.7 L1382.7 442.7 L1385.3 442.7 L1387.9 442.6 L1390.5 442.6 L1393.1 442.6 L1395.7 442.6 L1398.4 442.6 L1401.0 442.6 L1403.6 442.6 L1406.2 442.5 L1408.9 442.5 L1411.5 442.5 L1414.2 442.5 L1416.8 442.5 L1419.5 442.5 L1422.1 442.4 L1424.8 442.4 L1427.3 442.4 L1429.8 442.4 L1432.3 442.4 L1434.8 442.4 L1437.3 442.4 L1439.8 442.4 L1442.4 442.3 L1444.9 442.3 L1447.4 442.3 L1450.0 442.3 L1452.5 442.3 L1455.0 442.3 L1457.6 442.3 L1460.1 442.2 L1462.7 442.2 L1465.3 442.2 L1467.8 442.2 L1470.4 442.2 L1473.0 442.2 L1475.5 442.2 L1478.1 442.1 L1480.7 442.1 L1483.3 442.1 L1485.9 442.1 L1488.5 442.1 L1491.1 442.1 L1493.7 442.1 L1496.3 442.0 L1498.9 442.0 L1501.5 442.0 L1504.1 442.0 L1506.7 442.0 L1509.4 442.0 L1512.0 441.9 L1514.6 441.9 L1517.3 441.9 L1519.9 441.9 L1522.6 441.9 L1525.2 441.9 L1527.9 441.9 L1530.5 441.8 L1533.2 441.8 L1535.9 441.8 L1538.5 441.8 L1541.2 441.8 L1543.7 441.8 L1546.2 441.8 L1548.7 441.7 L1551.2 441.7 L1553.8 441.7 L1556.3 441.7 L1558.8 441.7 L1561.3 441.7 L1563.8 441.7 L1566.4 441.6 L1568.9 441.6 L1571.5 441.6 L1574.0 441.6" fill="none" stroke="#00B050" stroke-width="7.5" stroke-linejoin="round"/>
<path d="M360.9 526.4 L362.1 524.2 L362.8 521.8 L363.4 519.3 L364.0 516.9 L364.5 514.4 L365.1 512.0 L365.6 509.5 L366.1 507.1 L366.6 504.6 L367.1 502.2 L367.6 499.7 L368.2 497.2 L368.7 494.8 L369.3 492.3 L369.8 489.9 L370.4 487.4 L371.0 485.0 L371.6 482.5 L372.3 480.1 L372.9 477.7 L373.6 475.3 L374.4 472.9 L375.1 470.4 L375.9 468.1 L376.7 465.7 L377.6 463.3 L378.5 461.0 L379.4 458.6 L380.4 456.3 L381.4 454.0 L382.5 451.8 L383.6 449.5 L384.8 447.3 L386.0 445.1 L387.2 442.9 L388.6 440.8 L389.9 438.6 L391.3 436.6 L392.7 434.5 L394.2 432.4 L395.7 430.4 L397.3 428.5 L398.9 426.5 L400.5 424.6 L402.2 422.7 L403.9 420.9 L405.6 419.0 L407.3 417.2 L409.1 415.4 L410.9 413.7 L412.7 412.0 L414.6 410.3 L416.5 408.6 L418.4 406.9 L420.3 405.3 L422.2 403.7 L424.2 402.2 L426.2 400.6 L428.2 399.1 L430.3 397.6 L432.3 396.2 L434.4 394.7 L436.5 393.3 L438.6 392.0 L440.7 390.6 L442.9 389.3 L445.1 388.0 L447.2 386.8 L449.4 385.6 L451.6 384.4 L453.9 383.2 L456.1 382.0 L458.4 380.9 L460.7 379.8 L463.0 378.8 L465.3 377.8 L467.6 376.8 L469.9 375.8 L472.3 374.8 L474.6 373.9 L476.9 373.0 L479.3 372.2 L481.7 371.3 L484.1 370.5 L486.5 369.7 L488.9 368.9 L491.3 368.2 L493.7 367.4 L496.1 366.7 L498.5 366.1 L501.0 365.4 L503.4 364.7 L505.9 364.1 L508.3 363.5 L510.8 362.9 L513.2 362.4 L515.7 361.8 L518.2 361.3 L520.6 360.8 L523.1 360.3 L525.6 359.8 L528.1 359.3 L530.5 358.9 L533.0 358.5 L535.5 358.0 L538.0 357.6 L540.5 357.2 L543.0 356.8 L545.5 356.5 L548.0 356.1 L550.5 355.8 L553.0 355.4 L555.5 355.1 L558.0 354.8 L560.5 354.5 L563.0 354.2 L565.5 353.9 L568.0 353.7 L570.5 353.4 L573.0 353.1 L575.5 352.9 L578.1 352.7 L580.6 352.4 L583.1 352.2 L585.6 352.0 L588.1 351.8 L590.6 351.6 L593.1 351.4 L595.7 351.2 L598.2 351.0 L600.7 350.8 L603.3 350.7 L605.8 350.5 L608.3 350.3 L610.8 350.2 L613.4 350.0 L615.9 349.9 L618.4 349.7 L620.9 349.6 L623.5 349.5 L626.0 349.4 L628.5 349.2 L631.0 349.1 L633.6 349.0 L636.1 348.9 L638.6 348.8 L641.2 348.7 L643.7 348.6 L646.3 348.5 L648.8 348.4 L651.3 348.3 L653.8 348.2 L656.4 348.1 L658.9 348.0 L661.4 347.9 L663.9 347.9 L666.5 347.8 L669.0 347.7 L671.6 347.6 L674.1 347.6 L676.6 347.5 L679.1 347.4 L681.7 347.4 L684.2 347.3 L686.8 347.3 L689.3 347.2 L691.8 347.2 L694.4 347.1 L696.9 347.0 L699.5 347.0 L702.0 346.9 L704.5 346.9 L707.1 346.8 L709.6 346.8 L712.1 346.8 L714.7 346.7 L717.2 346.7 L719.8 346.6 L722.3 346.6 L724.9 346.6 L727.4 346.5 L729.9 346.5 L732.5 346.4 L735.1 346.4 L737.6 346.4 L740.2 346.3 L742.7 346.3 L745.2 346.3 L747.7 346.3 L750.3 346.2 L752.9 346.2 L755.4 346.2 L757.9 346.1 L760.5 346.1 L763.0 346.1 L765.5 346.1 L768.1 346.0 L770.6 346.0 L773.2 346.0 L775.7 346.0 L778.3 345.9 L780.8 345.9 L783.4 345.9 L785.9 345.9 L788.4 345.9 L791.0 345.8 L793.5 345.8 L796.1 345.8 L798.7 345.8 L801.3 345.8 L803.8 345.7 L806.3 345.7 L808.8 345.7 L811.3 345.7 L813.9 345.7 L816.4 345.6 L819.0 345.6 L821.6 345.6 L824.1 345.6 L826.7 345.6 L829.2 345.6 L831.8 345.5 L834.3 345.5 L836.8 345.5 L839.3 345.5 L841.9 345.5 L844.5 345.5 L847.0 345.5 L849.6 345.4 L852.2 345.4 L854.8 345.4 L857.3 345.4 L859.8 345.4 L862.3 345.4 L864.8 345.4 L867.4 345.4 L869.9 345.3 L872.5 345.3 L875.0 345.3 L877.6 345.3 L880.2 345.3 L882.8 345.3 L885.4 345.3 L887.9 345.3 L890.4 345.2 L892.9 345.2 L895.4 345.2 L898.0 345.2 L900.5 345.2 L903.0 345.2 L905.6 345.2 L908.2 345.2 L910.7 345.2 L913.3 345.1 L915.9 345.1 L918.5 345.1 L921.1 345.1 L923.6 345.1 L926.1 345.1 L928.6 345.1 L931.2 345.1 L933.7 345.1 L936.2 345.0 L938.8 345.0 L941.4 345.0 L943.9 345.0 L946.5 345.0 L949.1 345.0 L951.7 345.0 L954.2 345.0 L956.9 345.0 L959.5 345.0 L962.0 344.9 L964.5 344.9 L967.0 344.9 L969.5 344.9 L972.0 344.9 L974.6 344.9 L977.1 344.9 L979.7 344.9 L982.2 344.9 L984.8 344.9 L987.4 344.8 L990.0 344.8 L992.5 344.8 L995.1 344.8 L997.7 344.8 L1000.4 344.8 L1003.0 344.8 L1005.5 344.8 L1008.0 344.8 L1010.5 344.8 L1013.0 344.7 L1015.6 344.7 L1018.1 344.7 L1020.6 344.7 L1023.2 344.7 L1025.7 344.7 L1028.3 344.7 L1030.9 344.7 L1033.4 344.7 L1036.0 344.7 L1038.6 344.7 L1041.2 344.6 L1043.8 344.6 L1046.4 344.6 L1049.0 344.6 L1051.7 344.6 L1054.2 344.6 L1056.7 344.6 L1059.2 344.6 L1061.7 344.6 L1064.2 344.6 L1066.8 344.6 L1069.3 344.5 L1071.9 344.5 L1074.4 344.5 L1077.0 344.5 L1079.5 344.5 L1082.1 344.5 L1084.7 344.5 L1087.3 344.5 L1089.8 344.5 L1092.4 344.5 L1095.0 344.5 L1097.6 344.4 L1100.3 344.4 L1102.9 344.4 L1105.5 344.4 L1108.1 344.4 L1110.6 344.4 L1113.1 344.4 L1115.7 344.4 L1118.2 344.4 L1120.7 344.4 L1123.3 344.4 L1125.8 344.3 L1128.3 344.3 L1130.9 344.3 L1133.4 344.3 L1136.0 344.3 L1138.6 344.3 L1141.1 344.3 L1143.7 344.3 L1146.3 344.3 L1148.9 344.3 L1151.5 344.3 L1154.1 344.2 L1156.7 344.2 L1159.3 344.2 L1161.9 344.2 L1164.6 344.2 L1167.2 344.2 L1169.8 344.2 L1172.3 344.2 L1174.8 344.2 L1177.3 344.2 L1179.9 344.2 L1182.4 344.1 L1184.9 344.1 L1187.5 344.1 L1190.0 344.1 L1192.5 344.1 L1195.1 344.1 L1197.6 344.1 L1200.2 344.1 L1202.8 344.1 L1205.3 344.1 L1207.9 344.1 L1210.5 344.1 L1213.1 344.0 L1215.7 344.0 L1218.3 344.0 L1220.9 344.0 L1223.5 344.0 L1226.1 344.0 L1228.7 344.0 L1231.3 344.0 L1233.9 344.0 L1236.6 344.0 L1239.2 344.0 L1241.9 343.9 L1244.4 343.9 L1246.9 343.9 L1249.4 343.9 L1251.9 343.9 L1254.4 343.9 L1256.9 343.9 L1259.5 343.9 L1262.0 343.9 L1264.5 343.9 L1267.1 343.9 L1269.6 343.8 L1272.2 343.8 L1274.8 343.8 L1277.3 343.8 L1279.9 343.8 L1282.5 343.8 L1285.0 343.8 L1287.6 343.8 L1290.2 343.8 L1292.8 343.8 L1295.4 343.8 L1298.0 343.7 L1300.6 343.7 L1303.2 343.7 L1305.8 343.7 L1308.5 343.7 L1311.1 343.7 L1313.7 343.7 L1316.3 343.7 L1319.0 343.7 L1321.6 343.7 L1324.3 343.7 L1326.9 343.6 L1329.4 343.6 L1332.0 343.6 L1334.5 343.6 L1337.0 343.6 L1339.5 343.6 L1342.0 343.6 L1344.6 343.6 L1347.1 343.6 L1349.6 343.6 L1352.2 343.6 L1354.7 343.5 L1357.3 343.5 L1359.8 343.5 L1362.4 343.5 L1364.9 343.5 L1367.5 343.5 L1370.1 343.5 L1372.7 343.5 L1375.2 343.5 L1377.8 343.5 L1380.4 343.5 L1383.0 343.5 L1385.6 343.4 L1388.2 343.4 L1390.8 343.4 L1393.4 343.4 L1396.1 343.4 L1398.7 343.4 L1401.3 343.4 L1403.9 343.4 L1406.6 343.4 L1409.2 343.4 L1411.9 343.4 L1414.5 343.3 L1417.2 343.3 L1419.8 343.3 L1422.5 343.3 L1425.1 343.3 L1427.6 343.3 L1430.2 343.3 L1432.7 343.3 L1435.2 343.3 L1437.7 343.3 L1440.2 343.3 L1442.7 343.2 L1445.3 343.2 L1447.8 343.2 L1450.4 343.2 L1452.9 343.2 L1455.4 343.2 L1458.0 343.2 L1460.5 343.2 L1463.1 343.2 L1465.7 343.2 L1468.2 343.2 L1470.8 343.1 L1473.4 343.1 L1476.0 343.1 L1478.5 343.1 L1481.1 343.1 L1483.7 343.1 L1486.3 343.1 L1488.9 343.1 L1491.5 343.1 L1494.1 343.1 L1496.7 343.1 L1499.3 343.0 L1502.0 343.0 L1504.6 343.0 L1507.2 343.0 L1509.8 343.0 L1512.5 343.0 L1515.1 343.0 L1517.8 343.0 L1520.4 343.0 L1523.1 343.0 L1525.7 343.0 L1528.4 342.9 L1531.0 342.9 L1533.7 342.9 L1536.4 342.9 L1539.0 342.9 L1541.5 342.9 L1544.0 342.9 L1546.6 342.9 L1549.1 342.9 L1551.6 342.9 L1554.1 342.9 L1556.6 342.8 L1559.1 342.8 L1561.7 342.8 L1564.2 342.8 L1566.7 342.8 L1569.3 342.8 L1571.8 342.8 L1574.0 342.8" fill="none" stroke="#92D050" stroke-width="7.5" stroke-linejoin="round"/>
<text x="297" y="133.3" font-size="69" text-anchor="end">2.5</text>
<text x="297" y="320.4" font-size="69" text-anchor="end">2</text>
<text x="297" y="507.6" font-size="69" text-anchor="end">1.5</text>
<text x="297" y="694.7" font-size="69" text-anchor="end">1</text>
<text x="297" y="881.8" font-size="69" text-anchor="end">0.5</text>
<text x="360.6" y="971" font-size="69" text-anchor="middle">0</text>
<text x="763.2" y="971" font-size="69" text-anchor="middle">2000</text>
<text x="1165.9" y="971" font-size="69" text-anchor="middle">4000</text>
<text x="1568.5" y="971" font-size="69" text-anchor="middle">6000</text>
<text x="964" y="1072" font-size="68.5" font-weight="bold" text-anchor="middle">Time, s</text>
<text transform="translate(173.8 487.5) rotate(-90)" x="0" y="0" font-size="68.5" font-weight="bold" text-anchor="middle">pH</text>
<text x="1939" y="208" font-size="68.5" font-weight="bold">A</text>
<line x1="1728" y1="368" x2="1760" y2="368" stroke="#5B9BD5" stroke-width="8"/>
<line x1="1785.3" y1="368" x2="1817.3" y2="368" stroke="#5B9BD5" stroke-width="8"/>
<line x1="1843.9" y1="368" x2="1875.9" y2="368" stroke="#5B9BD5" stroke-width="8"/>
<text x="1893" y="388" font-size="68.5">0.1 M 10</text>
<line x1="1730.5" y1="485" x2="1875" y2="485" stroke="#ED7D31" stroke-width="13" stroke-linecap="round"/>
<text x="1893" y="504" font-size="68.5">0.5M 9.8</text>
<line x1="1730" y1="602" x2="1876" y2="602" stroke="#2E75B6" stroke-width="3"/>
<text x="1893" y="622" font-size="68.5">0.05 M 9.9</text>
<line x1="1730" y1="718.5" x2="1876" y2="718.5" stroke="#00B050" stroke-width="8"/>
<text x="1893" y="739" font-size="68.5">0.1 M 12</text>
<line x1="1730" y1="836.3" x2="1876" y2="836.3" stroke="#92D050" stroke-width="8"/>
<text x="1893" y="855" font-size="68.5">0.1 M 8.3</text>
</g>
<g id="chartB">
<line x1="391.9" y1="1239.5" x2="391.9" y2="2053.0" stroke="#BFBFBF" stroke-width="3"/>
<line x1="390.4" y1="2051.5" x2="1719.9" y2="2051.5" stroke="#BFBFBF" stroke-width="3"/>
<path d="M392.5 2051.5 C393.4 2050.8 396.2 2048.9 398.0 2047.5 C399.8 2046.1 401.9 2044.5 403.5 2043.0 C405.1 2041.5 406.7 2040.1 407.8 2038.5 C408.9 2036.9 409.7 2035.6 410.3 2033.5 C410.9 2031.4 411.4 2029.1 411.7 2026.0 C412.0 2022.9 412.2 2018.8 412.4 2015.0 C412.6 2011.2 412.5 2011.4 412.7 2003.0 C412.9 1994.6 413.4 1977.5 413.7 1964.8 C414.0 1952.0 414.4 1939.2 414.7 1926.5 C415.0 1913.8 415.4 1901.0 415.7 1888.2 C416.0 1875.5 416.4 1862.6 416.7 1850.0 C417.0 1837.4 417.4 1825.0 417.7 1812.5 C418.1 1800.0 418.4 1787.5 418.8 1775.0 C419.1 1762.5 419.4 1750.0 419.8 1737.5 C420.1 1725.0 420.5 1712.7 420.8 1700.0 C421.1 1687.3 421.5 1674.2 421.9 1661.2 C422.2 1648.3 422.5 1635.4 422.9 1622.5 C423.2 1609.6 423.6 1596.7 423.9 1583.8 C424.3 1570.8 424.6 1557.9 425.0 1545.0 C425.4 1532.1 425.7 1519.2 426.1 1506.2 C426.4 1493.3 426.8 1480.4 427.1 1467.5 C427.5 1454.6 427.8 1441.7 428.1 1428.8 C428.5 1415.8 428.8 1401.3 429.2 1390.0 C429.6 1378.7 430.0 1370.7 430.4 1361.0 C430.7 1351.3 430.8 1339.5 431.5 1332.0 C432.2 1324.5 433.2 1319.4 434.5 1316.0 C435.8 1312.6 437.8 1310.8 439.2 1311.5 C440.6 1312.2 441.9 1312.8 443.0 1320.0 C444.1 1327.2 444.8 1343.3 445.6 1355.0 C446.5 1366.7 447.4 1378.3 448.3 1390.0 C449.2 1401.7 450.3 1413.3 451.3 1425.0 C452.3 1436.7 453.2 1448.6 454.3 1460.0 C455.4 1471.4 456.7 1482.2 457.9 1493.3 C459.1 1504.4 460.2 1515.6 461.4 1526.7 C462.6 1537.8 463.9 1549.8 465.0 1560.0 C466.1 1570.2 467.0 1578.4 468.0 1587.7 C469.0 1596.9 470.0 1606.1 471.0 1615.3 C472.0 1624.6 472.8 1633.9 474.0 1643.0 C475.2 1652.1 476.4 1660.1 478.5 1670.0 C480.6 1679.9 484.1 1693.6 486.3 1702.6 C488.5 1711.6 489.9 1716.8 491.6 1723.9 C493.4 1731.1 494.3 1735.5 497.0 1745.3 C499.7 1755.1 504.1 1771.0 507.6 1782.6 C511.2 1794.1 514.8 1803.5 518.3 1814.6 C521.8 1825.7 525.3 1837.4 528.9 1849.0 C532.5 1860.6 536.6 1875.1 539.6 1884.0 C542.6 1892.9 544.3 1896.3 547.0 1902.6 C549.7 1908.9 552.4 1915.7 555.6 1921.8 C558.8 1927.9 562.7 1934.0 566.2 1939.0 C569.8 1944.0 572.8 1947.7 576.9 1952.0 C581.0 1956.3 586.0 1960.8 591.0 1965.1 C596.0 1969.4 601.7 1974.7 607.0 1977.9 C612.3 1981.1 617.7 1982.6 623.0 1984.3 C628.3 1986.0 633.4 1987.2 639.0 1988.3 C644.6 1989.4 650.7 1991.5 656.6 1991.0 C662.5 1990.5 669.1 1985.1 674.2 1985.1 C679.3 1985.0 682.5 1987.0 687.0 1990.7 C691.5 1994.4 695.4 2005.3 701.3 2007.0 C707.1 2008.7 715.2 2000.2 722.1 2001.1 C729.0 2002.0 735.4 2010.3 742.9 2012.3 C750.4 2014.3 758.9 2012.0 766.9 2013.1 C774.9 2014.2 782.9 2017.8 790.9 2018.7 C798.9 2019.6 807.7 2017.1 814.9 2018.7 C822.1 2020.3 825.8 2026.4 834.1 2028.3 C842.5 2030.2 857.2 2030.2 865.0 2030.3 C872.8 2030.4 875.1 2029.9 881.0 2028.7 C886.9 2027.5 893.5 2023.2 900.2 2023.2 C906.9 2023.2 914.1 2026.7 921.0 2028.7 C927.9 2030.7 934.6 2032.2 941.8 2035.1 C949.0 2038.0 956.8 2047.1 964.2 2046.3 C971.7 2045.5 978.8 2030.3 986.5 2030.3 C994.2 2030.3 1002.8 2045.6 1010.5 2046.3 C1018.2 2047.0 1025.7 2034.4 1032.9 2034.3 C1040.1 2034.2 1046.5 2044.7 1053.7 2045.5 C1060.9 2046.3 1068.6 2040.0 1076.1 2039.1 C1083.6 2038.2 1091.0 2039.6 1098.5 2039.9 C1106.0 2040.2 1113.4 2039.6 1120.9 2040.7 C1128.4 2041.8 1136.0 2045.8 1143.3 2046.3 C1150.6 2046.8 1157.8 2044.3 1165.0 2044.0 C1172.2 2043.7 1179.3 2044.2 1186.5 2044.3 C1193.7 2044.5 1201.1 2044.7 1208.0 2044.7 C1214.9 2044.7 1221.3 2044.5 1228.0 2044.3 C1234.7 2044.2 1240.2 2043.0 1248.0 2044.0 C1255.8 2045.0 1267.1 2050.5 1275.1 2050.3 C1283.1 2050.2 1289.1 2044.2 1295.9 2043.1 C1302.7 2042.0 1309.2 2043.4 1315.9 2043.5 C1322.6 2043.7 1329.4 2044.6 1335.9 2044.0 C1342.4 2043.4 1347.1 2038.7 1355.1 2040.0 C1363.1 2041.3 1375.1 2052.2 1383.9 2052.0 C1392.7 2051.8 1399.9 2039.1 1407.9 2039.1 C1415.9 2039.1 1423.2 2051.6 1431.9 2052.0 C1440.6 2052.4 1453.4 2043.7 1460.0 2041.5 C1466.6 2039.3 1467.2 2037.1 1471.4 2038.8 C1475.6 2040.5 1479.4 2049.4 1484.9 2051.5 C1490.4 2053.6 1498.6 2052.8 1504.3 2051.5 C1510.0 2050.2 1513.7 2044.0 1519.2 2044.0 C1524.7 2044.0 1529.9 2051.5 1537.1 2051.5 C1544.3 2051.5 1555.5 2043.8 1562.5 2044.0 C1569.5 2044.2 1571.5 2053.9 1578.9 2053.0 C1586.4 2052.1 1599.7 2038.8 1607.2 2038.8 C1614.7 2038.8 1618.5 2050.6 1623.7 2053.0 C1628.9 2055.4 1633.6 2054.4 1638.6 2053.0 C1643.6 2051.6 1648.0 2045.2 1653.5 2044.8 C1659.0 2044.4 1664.7 2049.6 1671.4 2050.7 C1678.1 2051.8 1685.6 2051.4 1693.8 2051.5 C1702.0 2051.6 1716.2 2051.5 1720.7 2051.5" fill="none" stroke="#ED7D31" stroke-width="8.5" stroke-linejoin="round"/>
<path d="M416.3 2033.5 L426.0 1710.0 L435.5 1390.0 L437.3 1330.0 L439.2 1311.5" fill="none" stroke="#ED7D31" stroke-width="8.5" stroke-linejoin="round"/>
<path d="M392.0 2053.0 C392.3 2047.8 393.1 2031.4 393.6 2022.0 C394.2 2012.6 394.6 2006.1 395.3 1996.6 C396.0 1987.1 396.9 1974.5 397.6 1965.0 C398.3 1955.5 398.8 1949.4 399.7 1939.8 C400.6 1930.2 402.1 1916.9 403.0 1907.3 C403.9 1897.7 404.6 1889.9 405.3 1882.0 C406.0 1874.1 406.3 1869.3 407.0 1860.0 C407.7 1850.7 408.5 1837.2 409.5 1826.0 C410.5 1814.8 411.9 1802.7 413.0 1793.0 C414.1 1783.3 415.0 1777.3 416.0 1768.0 C417.0 1758.7 417.6 1746.5 419.0 1737.0 C420.4 1727.5 422.8 1720.1 424.4 1710.8 C426.0 1701.5 427.4 1688.3 428.7 1681.0 C430.0 1673.7 430.9 1670.3 432.0 1667.0 C433.1 1663.7 434.1 1662.0 435.0 1661.0 C435.9 1660.0 436.7 1660.4 437.5 1661.0 C438.3 1661.6 438.7 1661.5 439.8 1664.7 C440.9 1667.9 442.5 1674.9 443.9 1680.0 C445.2 1685.1 446.9 1688.4 447.9 1695.4 C448.9 1702.4 448.7 1714.9 450.0 1721.8 C451.3 1728.7 453.9 1731.8 455.9 1737.0 C457.9 1742.2 459.9 1746.0 461.8 1752.7 C463.7 1759.4 465.1 1770.9 467.1 1777.3 C469.1 1783.7 471.7 1786.4 474.0 1791.0 C476.3 1795.6 478.6 1798.6 481.0 1805.0 C483.4 1811.4 485.6 1823.1 488.4 1829.5 C491.2 1835.9 494.8 1838.9 498.0 1843.5 C501.2 1848.1 503.5 1851.5 507.6 1857.2 C511.7 1863.0 517.8 1873.3 522.5 1878.0 C527.2 1882.7 531.4 1883.2 536.0 1885.5 C540.6 1887.8 547.8 1890.9 550.2 1892.0" fill="none" stroke="#5B9BD5" stroke-width="8" stroke-dasharray="31.8 25.55" stroke-linejoin="round"/>
<path d="M565.2 1914.4 L575.0 1920.5 L585.0 1926.0 L592.6 1928.4 M613.4 1944.4 L643.0 1952.4 M664.6 1962.0 L675.8 1957.5 L690.1 1970.0 M708.5 1986.0 L736.5 1978.0 M759.0 1994.0 L790.0 1997.0 M814.9 2002.0 L845.3 2007.5 M869.0 2012.8 L901.8 2012.8 M927.4 2015.2 L957.8 2019.2 M984.1 2024.0 L1014.5 2024.0 M1040.9 2028.7 L1055.0 2030.3 L1069.7 2025.5 M1095.3 2034.3 L1124.1 2034.3 M1148.0 2028.7 L1160.0 2038.3 L1172.8 2038.3 M1198.4 2030.3 L1224.0 2043.1 M1247.0 2030.3 L1256.0 2028.0 L1273.5 2038.3 M1300.7 2040.0 L1331.1 2040.0 M1358.3 2040.0 L1387.1 2046.3 M1414.3 2038.3 L1441.5 2044.7 M1468.4 2045.5 L1498.3 2045.5 M1525.1 2045.5 L1555.0 2045.5 M1583.4 2051.5 L1611.7 2051.5 M1640.0 2050.0 L1670.0 2044.0 M1695.3 2053.0 L1710.0 2049.5 L1722.2 2042.0" fill="none" stroke="#5B9BD5" stroke-width="8" stroke-linejoin="round"/>
<text x="328" y="1259.5" font-size="69" text-anchor="end">0.15</text>
<text x="328" y="1530.2" font-size="69" text-anchor="end">0.1</text>
<text x="328" y="1800.8" font-size="69" text-anchor="end">0.05</text>
<text x="328" y="2071.5" font-size="69" text-anchor="end">0</text>
<text x="391.9" y="2159" font-size="69" text-anchor="middle">0</text>
<text x="613.0" y="2159" font-size="69" text-anchor="middle">200</text>
<text x="834.1" y="2159" font-size="69" text-anchor="middle">400</text>
<text x="1055.2" y="2159" font-size="69" text-anchor="middle">600</text>
<text x="1276.2" y="2159" font-size="69" text-anchor="middle">800</text>
<text x="1495.3" y="2159" font-size="69" text-anchor="middle">1000</text>
<text x="1716.4" y="2159" font-size="69" text-anchor="middle">1200</text>
<text x="1054.5" y="2261.5" font-size="68.5" font-weight="bold" text-anchor="middle">Time, s</text>
<text transform="translate(171.1 1644.6) rotate(-90)" x="0" y="0" font-size="68.5" font-weight="bold" text-anchor="middle">dpH /dt</text>
<text x="1986.5" y="1357.7" font-size="68.5" font-weight="bold">B</text>
<line x1="1877" y1="1701" x2="2028" y2="1701" stroke="#ED7D31" stroke-width="8"/>
<text x="2041.5" y="1721.5" font-size="68.5">0.5M</text>
<line x1="1877" y1="1817.7" x2="1908.5" y2="1817.7" stroke="#5B9BD5" stroke-width="8"/>
<line x1="1934.7" y1="1817.7" x2="1966.2" y2="1817.7" stroke="#5B9BD5" stroke-width="8"/>
<line x1="1992.5" y1="1817.7" x2="2024.8" y2="1817.7" stroke="#5B9BD5" stroke-width="8"/>
<text x="2041.5" y="1838.5" font-size="68.5">0.1M</text>
</g>
</svg></body></html>
